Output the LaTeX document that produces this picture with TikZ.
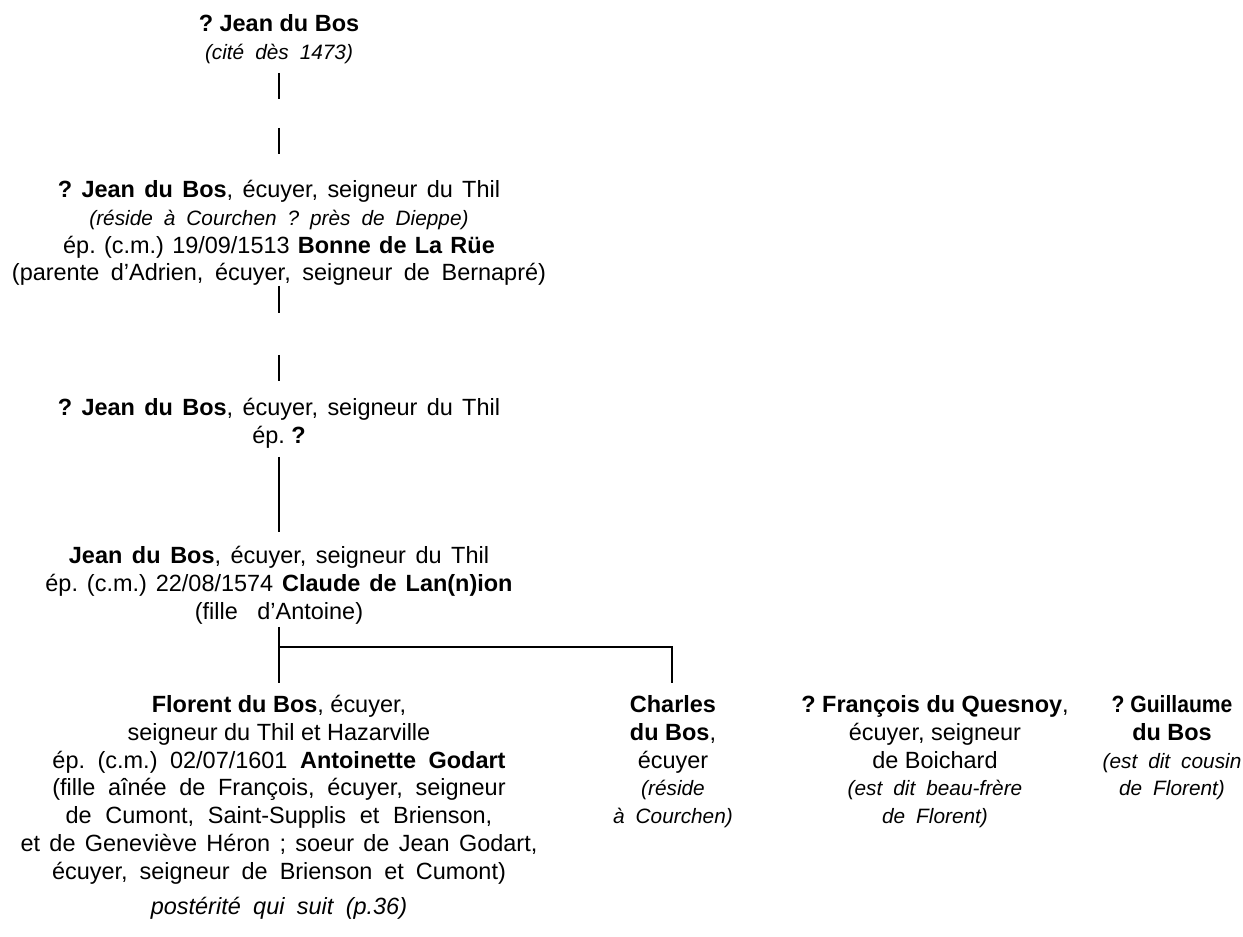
\documentclass[tikz,border=0pt]{standalone}
\usepackage{fontspec}
\usepackage{graphicx}
\setmainfont{Liberation Sans}[ItalicFeatures={WordSpace=1.9}]
\newcommand\mainsz{\fontsize{17.6}{20.8}\selectfont\frenchspacing}
\newcommand\itsz{\fontsize{15.6}{20.8}\selectfont\itshape}
\newcommand\tstrut{\rule{0pt}{16pt}}
\newcommand\ws[2]{{\spaceskip=\dimexpr\fontdimen2\font+#1pt\relax #2}}
\tikzset{
  person/.style={align=center, anchor=north, inner sep=0pt, font=\mainsz},
  link/.style={line width=1.5pt}
}
\begin{document}
\begin{tikzpicture}[x=0.75pt,y=-0.75pt]
\useasboundingbox (0,0) rectangle (1243,937);
\fill[white] (0,0) rectangle (1243,937);

\node[person] (n1) at (279,10) {\tstrut\textbf{? Jean du Bos}\\{\itsz (cité dès 1473)}};
\node[person] (n2) at (279,176) {\tstrut\ws{2.1}{\textbf{? Jean du Bos}, écuyer, seigneur du Thil}\\{\itsz (réside à Courchen ? près de Dieppe)}\\\ws{1.3}{ép. (c.m.) 19/09/1513 \textbf{Bonne de La Rüe}}\\\ws{3.8}{(parente d’Adrien, écuyer, seigneur de Bernapré)}};
\node[person] (n3) at (279,394) {\tstrut\ws{2.1}{\textbf{? Jean du Bos}, écuyer, seigneur du Thil}\\ép. \textbf{?}};
\node[person] (n4) at (279,542) {\tstrut\ws{2.3}{\textbf{Jean du Bos}, écuyer, seigneur du Thil}\\\ws{1.8}{ép. (c.m.) 22/08/1574 \textbf{Claude de Lan(n)ion}}\\\ws{9.8}{(fille d’Antoine)}};
\node[person] (flo) at (279,691) {\tstrut\textbf{Florent du Bos}, écuyer,\\seigneur du Thil et Hazarville\\\ws{4.5}{ép. (c.m.) 02/07/1601 \textbf{Antoinette Godart}}\\\ws{4.6}{(fille aînée de François, écuyer, seigneur}\\\ws{5.4}{de Cumont, Saint-Supplis et Brienson,}\\\ws{2.1}{et de Geneviève Héron ; soeur de Jean Godart,}\\\ws{4.1}{écuyer, seigneur de Brienson et Cumont)}};
\node[person] (post) at (279,893) {\tstrut{\itshape postérité qui suit (p.36)}};
\node[person] (cha) at (673,691) {\tstrut\textbf{Charles}\\\textbf{du Bos},\\écuyer\\{\itsz (réside}\\{\itsz à Courchen)}};
\node[person] (fra) at (935,691) {\tstrut\textbf{? François du Quesnoy},\\écuyer, seigneur\\de Boichard\\{\itsz (est dit beau-frère}\\{\itsz de Florent)}};
\node[person] (gui) at (1172,691) {\tstrut\scalebox{0.9}[1]{\textbf{? Guillaume}}\\\textbf{du Bos}\\{\itsz (est dit cousin}\\{\itsz de Florent)}};

\coordinate (a1) at (279,73);  \coordinate (a2) at (279,99);
\coordinate (a3) at (279,128); \coordinate (a4) at (279,154);
\coordinate (b1) at (279,286); \coordinate (b2) at (279,313);
\coordinate (b3) at (279,355); \coordinate (b4) at (279,381);
\coordinate (c1) at (279,457); \coordinate (c2) at (279,532);
\coordinate (d1) at (279,627); \coordinate (d2) at (279,683);
\coordinate (e1) at (279,647); \coordinate (e2) at (672,647); \coordinate (e3) at (672,683);

\draw[link] (a1) -- (a2);
\draw[link] (a3) -- (a4);
\draw[link] (b1) -- (b2);
\draw[link] (b3) -- (b4);
\draw[link] (c1) -- (c2);
\draw[link] (d1) -- (d2);
\draw[link] (e1) -- (e2) -- (e3);
\end{tikzpicture}
\end{document}
